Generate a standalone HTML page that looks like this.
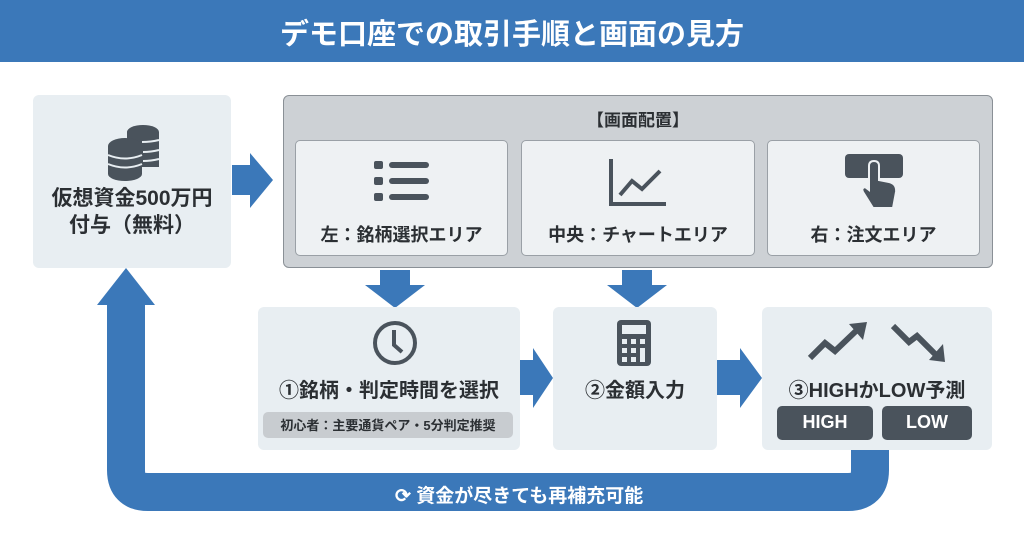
<!DOCTYPE html>
<html><head><meta charset="utf-8"><style>
body{margin:0;width:1024px;height:541px;background:#fff;position:relative;overflow:hidden;font-family:"Liberation Sans","Noto Sans CJK JP",sans-serif;color:#2b2f33}
.a{position:absolute;box-sizing:border-box}
.t{position:absolute;font-weight:bold;text-align:center;white-space:nowrap}
</style></head><body>
<div class="a" style="left:0;top:0;width:1024px;height:62px;background:#3b78b9"></div>
<div class="t" style="left:0;top:11px;width:1024px;font-size:29px;color:#fff">デモ口座での取引手順と画面の見方</div>

<svg class="a" style="left:0;top:0" width="1024" height="541">
<path d="M870 445 V470 Q870 492 848 492 H148 Q126 492 126 470 V300" fill="none" stroke="#3b78b9" stroke-width="38"/>
<polygon points="97,305 155,305 126,268" fill="#3b78b9"/>
<polygon points="232,165 250,165 250,153 273,180 250,208 250,195 232,195" fill="#3b78b9"/>
<polygon points="380,270 410,270 410,285 425,285 395,308 365,285 380,285" fill="#3b78b9"/>
<polygon points="622,270 652,270 652,285 667,285 637,308 607,285 622,285" fill="#3b78b9"/>
<polygon points="520,360 533,360 533,348 553,378 533,408 533,395 520,395" fill="#3b78b9"/>
<polygon points="717,360 740,360 740,348 762,378 740,408 740,395 717,395" fill="#3b78b9"/>
</svg>

<div class="a" style="left:33px;top:95px;width:198px;height:173px;background:#e8eef2;border-radius:6px"></div>
<svg class="a" style="left:103px;top:122px" width="58" height="60">
<g fill="#4a535c"><ellipse cx="40" cy="10" rx="16" ry="7"/><rect x="24" y="10" width="32" height="35"/><ellipse cx="22" cy="24" rx="17" ry="8"/><rect x="5" y="24" width="34" height="28" /><ellipse cx="22" cy="52" rx="17" ry="7"/></g>
<g stroke="#e8eef2" stroke-width="2" fill="none"><path d="M5 33 Q22 40 39 33 M5 42 Q22 49 39 42 M39 20 Q48 20 56 18 M40 30 Q48 30 56 28 M40 39 Q48 39 56 37"/></g>
</svg>
<div class="t" style="left:33px;top:185px;width:198px;font-size:21px;line-height:27px">仮想資金500万円<br>付与（無料）</div>

<div class="a" style="left:283px;top:95px;width:710px;height:173px;background:#cdd1d5;border:1.5px solid #8a9096;border-radius:6px"></div>
<div class="t" style="left:283px;top:106px;width:710px;font-size:17px">【画面配置】</div>
<div class="a" style="left:295px;top:140px;width:213px;height:116px;background:#eef1f3;border:1px solid #9aa0a6;border-radius:5px"></div>
<div class="a" style="left:521px;top:140px;width:234px;height:116px;background:#eef1f3;border:1px solid #9aa0a6;border-radius:5px"></div>
<div class="a" style="left:767px;top:140px;width:213px;height:116px;background:#eef1f3;border:1px solid #9aa0a6;border-radius:5px"></div>
<svg class="a" style="left:372px;top:160px" width="60" height="45"><g fill="#4a535c"><rect x="2" y="1" width="9" height="8" rx="2"/><rect x="2" y="17" width="9" height="8" rx="2"/><rect x="2" y="33" width="9" height="8" rx="2"/><rect x="17" y="2" width="40" height="6" rx="3"/><rect x="17" y="18" width="40" height="6" rx="3"/><rect x="17" y="34" width="40" height="6" rx="3"/></g></svg>
<svg class="a" style="left:608px;top:157px" width="60" height="50"><g fill="none" stroke="#4a535c" stroke-width="4"><path d="M3 2 V47 H58"/><path d="M12 38 L24 24 L34 32 L52 14"/></g></svg>
<svg class="a" style="left:845px;top:152px" width="60" height="58"><rect x="0" y="2" width="58" height="24" rx="4" fill="#4a535c"/><path d="M24 14 Q24 9 29 9 Q34 9 34 14 V28 L44 30 Q52 32 51 40 L48 56 H28 L18 40 Q16 36 20 35 L24 38 Z" fill="#4a535c" stroke="#eef1f3" stroke-width="2"/></svg>
<div class="t" style="left:295px;top:221px;width:213px;font-size:18px">左：銘柄選択エリア</div>
<div class="t" style="left:521px;top:221px;width:234px;font-size:18px">中央：チャートエリア</div>
<div class="t" style="left:767px;top:221px;width:213px;font-size:18px">右：注文エリア</div>

<div class="a" style="left:258px;top:307px;width:262px;height:143px;background:#e8eef2;border-radius:6px"></div>
<div class="a" style="left:553px;top:307px;width:164px;height:143px;background:#e8eef2;border-radius:6px"></div>
<div class="a" style="left:762px;top:307px;width:230px;height:143px;background:#e8eef2;border-radius:6px"></div>

<svg class="a" style="left:370px;top:318px" width="50" height="50"><circle cx="25" cy="25" r="20" fill="none" stroke="#4a535c" stroke-width="4"/><path d="M24 12 V27 L32 34" fill="none" stroke="#4a535c" stroke-width="4"/></svg>
<div class="t" style="left:258px;top:374px;width:262px;font-size:20px">①銘柄・判定時間を選択</div>
<div class="a" style="left:263px;top:412px;width:250px;height:26px;background:#c8ccd0;border-radius:5px"></div>
<div class="t" style="left:263px;top:415px;width:250px;font-size:13px">初心者：主要通貨ペア・5分判定推奨</div>

<svg class="a" style="left:617px;top:318px" width="36" height="50"><rect x="0" y="2" width="34" height="46" rx="4" fill="#4a535c"/><rect x="5" y="7" width="24" height="9" fill="#e8eef2"/><g fill="#e8eef2"><rect x="5" y="21" width="5" height="5"/><rect x="14" y="21" width="5" height="5"/><rect x="23" y="21" width="5" height="5"/><rect x="5" y="30" width="5" height="5"/><rect x="14" y="30" width="5" height="5"/><rect x="23" y="30" width="5" height="14"/><rect x="5" y="39" width="5" height="5"/><rect x="14" y="39" width="5" height="5"/></g></svg>
<div class="t" style="left:553px;top:374px;width:164px;font-size:20px">②金額入力</div>

<svg class="a" style="left:805px;top:318px" width="145" height="48"><g fill="none" stroke="#4a535c" stroke-width="6"><path d="M5 40 L20 25 L30 33 L52 12"/><path d="M88 8 L104 24 L112 18 L132 38"/></g><polygon points="44,6 62,4 58,22" fill="#4a535c"/><polygon points="124,42 140,44 138,26" fill="#4a535c"/></svg>
<div class="t" style="left:762px;top:374px;width:230px;font-size:20px">③HIGHかLOW予測</div>
<div class="a" style="left:777px;top:406px;width:96px;height:34px;background:#4a535c;border-radius:5px"></div>
<div class="a" style="left:882px;top:406px;width:90px;height:34px;background:#4a535c;border-radius:5px"></div>
<div class="t" style="left:777px;top:412px;width:96px;font-size:18px;color:#fff">HIGH</div>
<div class="t" style="left:882px;top:412px;width:90px;font-size:18px;color:#fff">LOW</div>

<div class="t" style="left:395px;top:481px;font-size:19px;color:#fff">⟳ 資金が尽きても再補充可能</div>
</body></html>
